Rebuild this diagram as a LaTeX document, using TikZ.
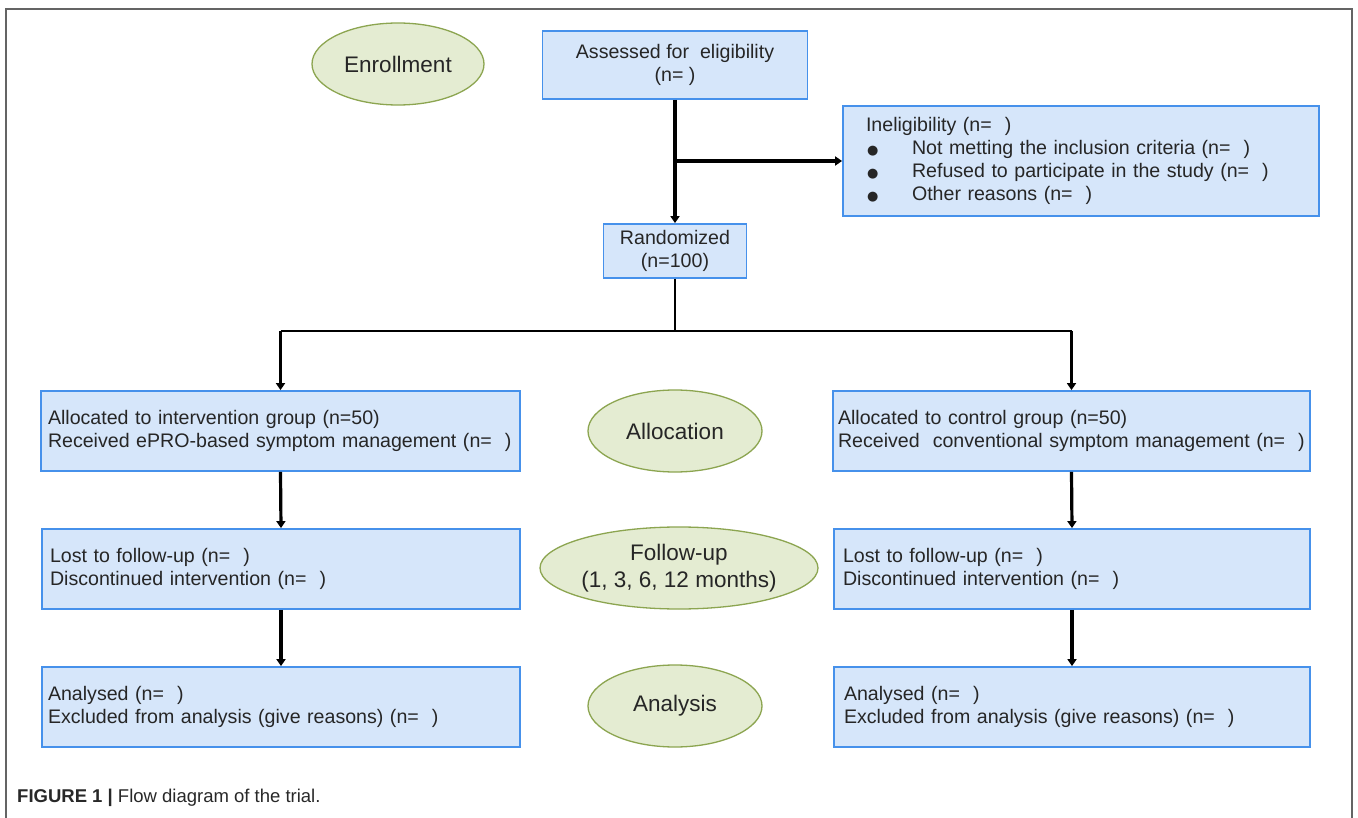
\documentclass[tikz,border=0pt]{standalone}
\usepackage{fontspec}
\setmainfont{Liberation Sans}
\newfontfamily\dejavu{DejaVu Sans}
\usetikzlibrary{shapes.geometric,arrows.meta}
\definecolor{boxfill}{RGB}{214,230,250}
\definecolor{boxline}{RGB}{70,145,235}
\definecolor{ellfill}{RGB}{228,236,210}
\definecolor{ellline}{RGB}{140,165,80}
\definecolor{framegray}{RGB}{100,100,100}
\definecolor{captext}{RGB}{40,40,40}
\newcommand{\blt}{\makebox[46pt][l]{\hspace{1pt}{\dejavu\fontsize{13}{13}\selectfont ●}}}
\begin{document}
\begin{tikzpicture}[x=1pt,y=-1pt,
  box/.style={draw=boxline,fill=boxfill,line width=1.8pt,rectangle,inner sep=0pt,
    font=\fontsize{19.6}{23}\selectfont,text=black!85},
  stage/.style={ellipse,draw=ellline,fill=ellfill,line width=1.3pt,inner sep=0pt,
    font=\fontsize{22.5}{27}\selectfont,align=center,text=black!85},
  arr/.style={line width=3.2pt,-{Triangle[length=7pt,width=9pt]}},
  ln/.style={line width=1.8pt}]
\useasboundingbox (0,0) rectangle (1358,818);
\fill[white] (0,0) rectangle (1358,818);
\draw[framegray,line width=1.5pt] (6,818) -- (6,9) -- (1352,9) -- (1352,818);

% stage ellipses
\node[stage,minimum width=172pt,minimum height=82pt] (enroll) at (398,64) {Enrollment};
\node[stage,minimum width=174pt,minimum height=82pt] (allocst) at (675,431) {Allocation};
\node[stage,minimum width=278pt,minimum height=82pt] (follow) at (679,568) {Follow-up\\(1, 3, 6, 12 months)};
\node[stage,minimum width=174pt,minimum height=82pt] (analst) at (675,706) {Analysis};

% top boxes
\node[box,minimum width=265pt,minimum height=68pt,align=center] (assess) at (675,65)
  {Assessed for~ eligibility\\(n=~)};
\node[box,minimum width=476pt,minimum height=110pt,text width=430pt,align=left] (inel) at (1081,161)
  {Ineligibility (n=~~)\\
   \blt Not metting the inclusion criteria (n=~~)\\
   \blt Refused to participate in the study (n=~~)\\
   \blt Other reasons (n=~~)};
\node[box,minimum width=143pt,minimum height=54pt,align=center] (rand) at (675,251)
  {Randomized\\(n=100)};

% left column
\node[box,minimum width=479pt,minimum height=80pt,text width=477pt,align=left] (allocL) at (280.5,431)
  {\hspace*{6pt}Allocated to intervention group (n=50)\\\hspace*{6pt}Received ePRO-based symptom management (n=~~)};
\node[box,minimum width=478pt,minimum height=80pt,text width=462pt,align=left] (lostL) at (281,569)
  {Lost to follow-up (n=~~)\\Discontinued intervention (n=~~)};
\node[box,minimum width=478pt,minimum height=80pt,text width=466pt,align=left] (analL) at (281,707)
  {Analysed (n=~~)\\Excluded from analysis (give reasons) (n=~~)};

% right column
\node[box,minimum width=477pt,minimum height=80pt,text width=467pt,align=left] (allocR) at (1071.5,431)
  {Allocated to control group (n=50)\\Received~ conventional symptom management (n=~~)};
\node[box,minimum width=476pt,minimum height=80pt,text width=458pt,align=left] (lostR) at (1072,569)
  {Lost to follow-up (n=~~)\\Discontinued intervention (n=~~)};
\node[box,minimum width=476pt,minimum height=80pt,text width=456pt,align=left] (analR) at (1072,707)
  {Analysed (n=~~)\\Excluded from analysis (give reasons) (n=~~)};

% connectors
\draw[arr] (assess.south) -- (rand.north);
\draw[arr] (assess.south |- inel.west) -- (inel.west);
\draw[ln] (rand.south) -- ++(0,52) coordinate (split);
\draw[ln] (allocL.north |- split) -- (allocR.north |- split);
\draw[arr] (allocL.north |- split) -- (allocL.north);
\draw[arr] (allocR.north |- split) -- (allocR.north);
\draw[arr] (allocL.south) -- (lostL.north);
\draw[arr] (lostL.south) -- (analL.north);
\draw[arr] (allocR.south) -- (lostR.north);
\draw[arr] (lostR.south) -- (analR.north);

% caption
\node[anchor=west,inner sep=0pt,font=\fontsize{18.5}{21}\selectfont,text=captext] (cap) at (17,798)
  {\textbf{FIGURE 1 |} Flow diagram of the trial.};
\end{tikzpicture}
\end{document}
